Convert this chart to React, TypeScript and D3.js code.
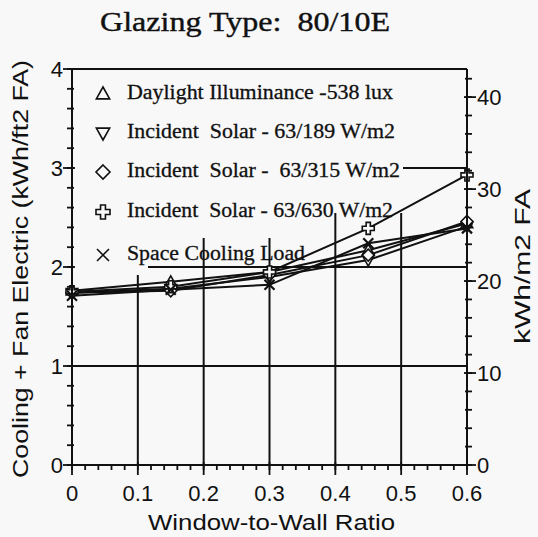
import React from "react";
import * as d3 from "d3";

const wwr = [0, 0.15, 0.3, 0.45, 0.6];
const daylight = [1.76, 1.85, 1.95, 2.17, 2.44];
const solar189 = [1.74, 1.78, 1.9, 2.07, 2.41];
const solar315 = [1.74, 1.76, 1.92, 2.12, 2.46];
const solar630 = [1.75, 1.8, 1.95, 2.39, 2.93];
const cooling = [1.71, 1.77, 1.82, 2.24, 2.39];

const legendLabels = [
  "Daylight Illuminance -538 lux",
  "Incident  Solar - 63/189 W/m2",
  "Incident  Solar -  63/315 W/m2",
  "Incident  Solar - 63/630 W/m2",
  "Space Cooling Load",
];
const legendWidths = [266, 268, 273, 266, 178];
const markerKinds = ["up", "down", "diamond", "plus", "x"];

const xTicks = [0, 0.1, 0.2, 0.3, 0.4, 0.5, 0.6];
const yTicks = [0, 1, 2, 3, 4];
const y2Ticks = [0, 10, 20, 30, 40];
const M2_PER_FT2 = 10.764;

const BG = "#f8f8f8";
const INK = "#111";

const marker = (kind: string, s: number) => {
  switch (kind) {
    case "up":
      return `M0,${-s}L${s * 0.95},${s * 0.7}L${-s * 0.95},${s * 0.7}Z`;
    case "down":
      return `M0,${s}L${s * 0.95},${-s * 0.7}L${-s * 0.95},${-s * 0.7}Z`;
    case "diamond":
      return `M0,${-s}L${s},0L0,${s}L${-s},0Z`;
    case "plus": {
      const a = s * 0.35;
      return `M${-a},${-s}H${a}V${-a}H${s}V${a}H${a}V${s}H${-a}V${a}H${-s}V${-a}H${-a}Z`;
    }
    default:
      return `M${-s},${-s}L${s},${s}M${s},${-s}L${-s},${s}`;
  }
};

export default function App() {
  const width = 538;
  const height = 537;
  const x = d3.scaleLinear().domain([0, 0.6]).range([72, 467]);
  const y = d3.scaleLinear().domain([0, 4]).range([465, 69]);
  const y2 = d3.scaleLinear().domain([0, 4 * M2_PER_FT2]).range([465, 69]);

  const series = [daylight, solar189, solar315, solar630, cooling];
  const line = d3
    .line<number>()
    .x((_, i) => x(wwr[i]))
    .y((d) => y(d));

  const xMinor = d3.range(0, 0.6001, 0.02);
  const yMinor = d3.range(0, 4.0001, 0.2);
  const y2Minor = d3.range(0, 42.001, 2).filter((v) => y2(v) >= 69);

  const legendY = [92, 131, 170, 210, 253];

  return (
    <svg width={width} height={height} style={{ display: "block", position: "absolute", left: 0, top: 0, background: BG }}>
      <rect width={width} height={height} fill={BG} />
      <text
        x={100}
        y={31}
        textLength={290}
        lengthAdjust="spacingAndGlyphs"
        fontFamily="Liberation Serif"
        fontSize={28}
        fill={INK}
        stroke={INK}
        strokeWidth={0.4}
        style={{ whiteSpace: "pre" }}
      >
        Glazing Type:  80/10E
      </text>

      {/* grid */}
      <g stroke={INK} strokeWidth={2}>
        {[0.1, 0.2, 0.3, 0.4, 0.5].map((t) => (
          <line key={t} x1={x(t)} x2={x(t)} y1={y(4)} y2={y(0)} />
        ))}
        {[1, 2, 3].map((t) => (
          <line key={t} x1={x(0)} x2={x(0.6)} y1={y(t)} y2={y(t)} />
        ))}
      </g>

      {/* legend backgrounds hide the grid */}
      <g fill={BG}>
        <rect x={73} y={70} width={330} height={143} />
        <rect x={73} y={213} width={75} height={62} />
        <rect x={148} y={213} width={150} height={25} />
      </g>

      {/* data */}
      <g fill="none" stroke={INK} strokeWidth={2}>
        {series.map((s, i) => (
          <path key={i} d={line(s) || ""} />
        ))}
      </g>
      <g fill={BG} stroke={INK}>
        {series.map((s, i) =>
          s.map((v, j) => (
            <path
              key={`${i}-${j}`}
              transform={`translate(${x(wwr[j])},${y(v)})`}
              d={marker(markerKinds[i], markerKinds[i] === "x" ? 5 : 6)}
              strokeWidth={markerKinds[i] === "x" ? 2.2 : 1.6}
            />
          ))
        )}
      </g>

      {/* legend */}
      {legendLabels.map((lab, i) => (
        <g key={lab}>
          <path
            transform={`translate(103,${legendY[i] + 2})`}
            d={marker(markerKinds[i], markerKinds[i] === "x" ? 6 : 7)}
            fill="none"
            stroke={INK}
            strokeWidth={1.6}
          />
          <text
            x={127}
            y={legendY[i] + 7}
            textLength={legendWidths[i]}
            lengthAdjust="spacingAndGlyphs"
            fontFamily="Liberation Serif"
            fontSize={20}
            fill={INK}
            stroke={INK}
            strokeWidth={0.3}
            style={{ whiteSpace: "pre" }}
          >
            {lab}
          </text>
        </g>
      ))}

      {/* frame */}
      <g stroke={INK} strokeWidth={2} fill="none">
        <line x1={x(0)} x2={x(0)} y1={69} y2={465} />
        <line x1={x(0.6)} x2={x(0.6)} y1={69} y2={465} />
        <line x1={x(0)} x2={x(0.6)} y1={69} y2={69} />
        <line x1={x(0)} x2={x(0.6)} y1={465} y2={465} />
      </g>

      {/* ticks */}
      <g stroke={INK} strokeWidth={1.8}>
        {yMinor.map((v) => (
          <line key={`yl${v}`} x1={x(0) - 5} x2={x(0) + 2} y1={y(v)} y2={y(v)} />
        ))}
        {yTicks.map((v) => (
          <line key={`yL${v}`} x1={x(0) - 9} x2={x(0) + 3} y1={y(v)} y2={y(v)} />
        ))}
        {y2Minor.map((v) => (
          <line key={`yr${v}`} x1={x(0.6) - 2} x2={x(0.6) + 5} y1={y2(v)} y2={y2(v)} />
        ))}
        {y2Ticks.map((v) => (
          <line key={`yR${v}`} x1={x(0.6) - 3} x2={x(0.6) + 9} y1={y2(v)} y2={y2(v)} />
        ))}
        {xMinor.map((v) => (
          <line key={`xm${v}`} x1={x(v)} x2={x(v)} y1={465} y2={470} />
        ))}
        {xTicks.map((v) => (
          <line key={`xM${v}`} x1={x(v)} x2={x(v)} y1={462} y2={475} />
        ))}
      </g>

      <g fontFamily="Liberation Sans" fontSize={22} fill={INK}>
        {yTicks.map((v) => (
          <text key={v} x={x(0) - 9} y={y(v) + 8} textAnchor="end">
            {v}
          </text>
        ))}
        {y2Ticks.map((v) => (
          <text key={v} x={x(0.6) + 10} y={y2(v) + 8}>
            {v}
          </text>
        ))}
        {xTicks.map((v) => (
          <text key={v} x={x(v)} y={501} textAnchor="middle">
            {d3.format("")(v)}
          </text>
        ))}
        <text x={148} y={530} textLength={247} lengthAdjust="spacingAndGlyphs">
          Window-to-Wall Ratio
        </text>
        <text
          transform="translate(28,478) rotate(-90)"
          textLength={418}
          lengthAdjust="spacingAndGlyphs"
        >
          Cooling + Fan Electric (kWh/ft2 FA)
        </text>
        <text
          transform="translate(530,344) rotate(-90)"
          textLength={155}
          lengthAdjust="spacingAndGlyphs"
        >
          kWh/m2 FA
        </text>
      </g>
    </svg>
  );
}
